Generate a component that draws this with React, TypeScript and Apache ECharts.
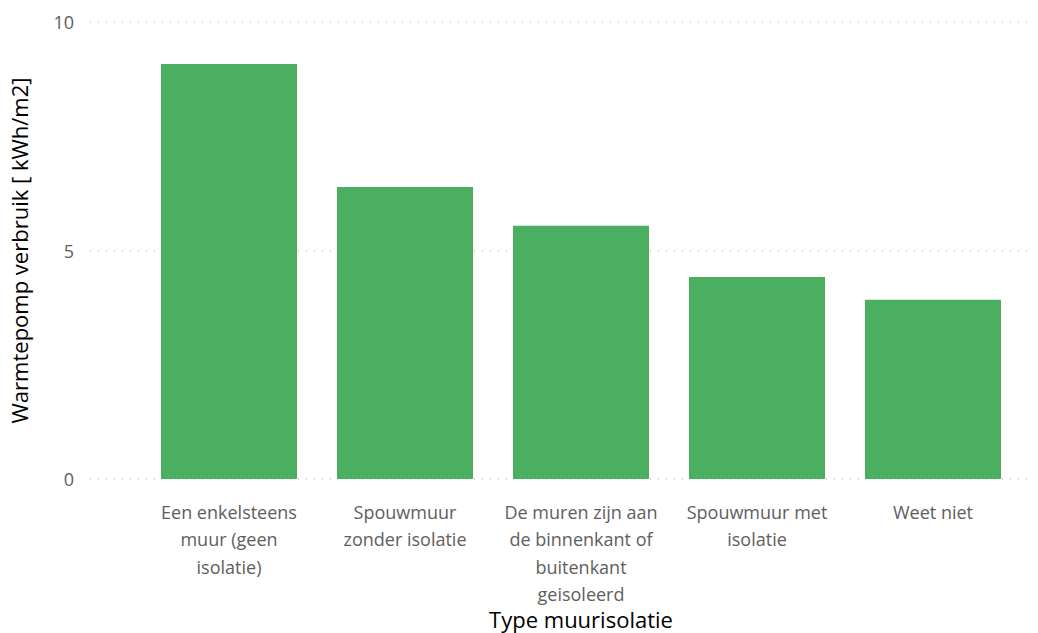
import React, { useEffect, useRef } from "react";
import * as echarts from "echarts";

const categories = [
  "Een enkelsteens muur (geen isolatie)",
  "Spouwmuur zonder isolatie",
  "De muren zijn aan de binnenkant of buitenkant geisoleerd",
  "Spouwmuur met isolatie",
  "Weet niet",
];
const categoryLabels = [
  "Een enkelsteens\nmuur (geen\nisolatie)",
  "Spouwmuur\nzonder isolatie",
  "De muren zijn aan\nde binnenkant of\nbuitenkant\ngeisoleerd",
  "Spouwmuur met\nisolatie",
  "Weet niet",
];
const values = [9.08, 6.39, 5.54, 4.42, 3.92];
const yTicks = [0, 5, 10];

const FONT = "'Open Sans', 'Noto Sans', sans-serif";

export default function App() {
  const ref = useRef<HTMLDivElement>(null);
  useEffect(() => {
    document.body.style.margin = "0";
    const chart = echarts.init(ref.current!, null, { renderer: "svg" });
    chart.setOption({
      animation: false,
      backgroundColor: "#ffffff",
      grid: [
        { left: 90, right: 8, top: 22, bottom: 154, outerBoundsMode: "none", containLabel: false },
        { left: 141, right: 17, top: 22, bottom: 154, outerBoundsMode: "none", containLabel: false },
      ],
      xAxis: [
        { gridIndex: 0, type: "value", show: false, min: 0, max: 1 },
        {
          gridIndex: 1,
          type: "category",
          data: categories,
          axisLine: { show: false },
          axisTick: { show: false },
          axisLabel: {
            interval: 0,
            margin: 19,
            fontFamily: FONT,
            fontSize: 18,
            color: "#605E5C",
            lineHeight: 27.5,
            formatter: (_v: string, i: number) => categoryLabels[i],
          },
          name: "Type muurisolatie",
          nameLocation: "middle",
          nameGap: 129,
          nameMoveOverlap: false,
          nameTextStyle: {
            fontFamily: FONT,
            fontSize: 22,
            color: "#000000",
          },
        },
      ],
      yAxis: [
        {
          gridIndex: 0,
          type: "value",
          min: yTicks[0],
          max: yTicks[yTicks.length - 1],
          interval: 5,
          axisLine: { show: false },
          axisTick: { show: false },
          axisLabel: {
            margin: 16,
            fontFamily: FONT,
            fontSize: 18,
            color: "#605E5C",
          },
          splitLine: {
            show: true,
            lineStyle: { color: "#C8C6C4", type: [1, 7], width: 1.5 },
          },
          name: "Warmtepomp verbruik [ kWh/m2]",
          nameLocation: "middle",
          nameGap: 60,
          nameMoveOverlap: false,
          nameTextStyle: {
            fontFamily: FONT,
            fontSize: 22,
            color: "#000000",
          },
        },
        {
          gridIndex: 1,
          type: "value",
          min: 0,
          max: 10,
          show: false,
        },
      ],
      series: [
        {
          type: "bar",
          xAxisIndex: 1,
          yAxisIndex: 1,
          data: values,
          barCategoryGap: "22.7%",
          itemStyle: { color: "#4BAF62" },
        },
      ],
    });
    return () => chart.dispose();
  }, []);
  return <div ref={ref} style={{ width: 1038, height: 633 }} />;
}
